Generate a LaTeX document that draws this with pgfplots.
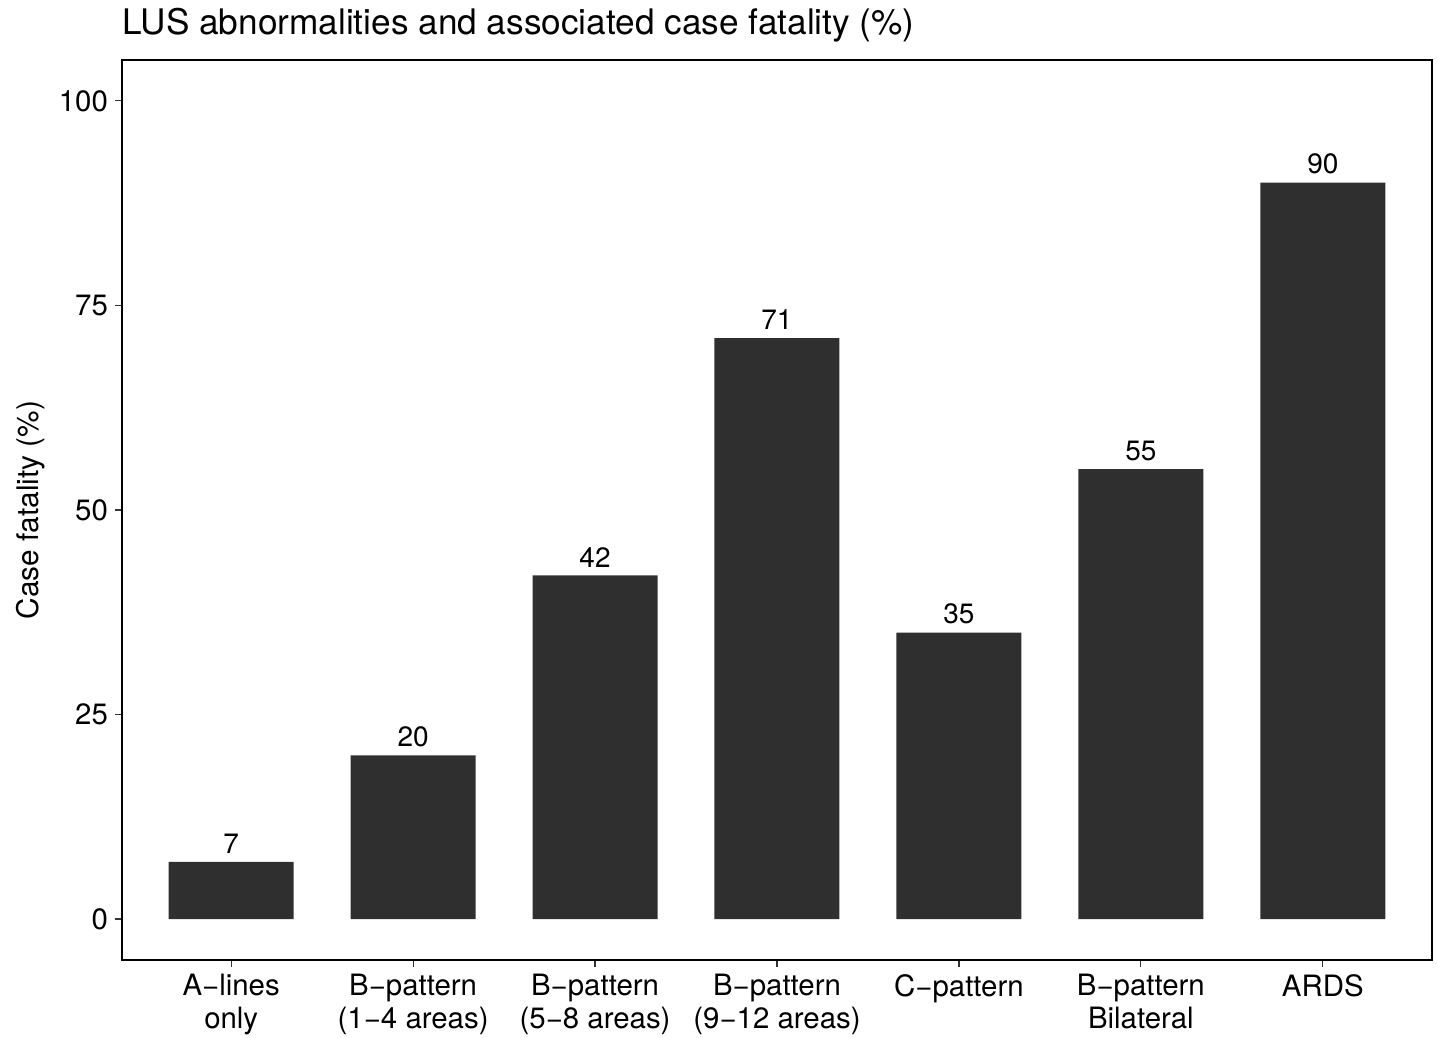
\documentclass[border=0pt]{standalone}
\usepackage{pgfplots}
\pgfplotsset{compat=1.18}
\usepackage{fontspec}
\setmainfont{TeX Gyre Heros}
\definecolor{barcol}{HTML}{2F2F2F}
\begin{document}
\begin{tikzpicture}
\useasboundingbox (-61pt,-39pt) rectangle (657.5pt,480pt);
\begin{axis}[
  name=ax,
  at={(0,0)}, anchor=south west,
  scale only axis, width=655pt, height=450pt,
  xmin=-0.6, xmax=6.6, ymin=-5, ymax=105,
  axis line style={line width=0.6pt, black},
  xtick={0,1,2,3,4,5,6},
  xticklabels={A−lines\\only, B−pattern\\(1−4 areas), B−pattern\\(5−8 areas), B−pattern\\(9−12 areas), C−pattern, B−pattern\\Bilateral, ARDS},
  ytick={0,25,50,75,100},
  tick align=outside, xtick pos=bottom, ytick pos=left,
  major tick length=3.5pt,
  tick style={line width=0.6pt, black!80},
  /pgf/number format/assume math mode=true,
  xticklabel style={align=center, font=\fontsize{14.7}{16.5}\selectfont, text=black},
  yticklabel style={font=\fontsize{14.7}{16.5}\selectfont, text=black},
  ylabel={Case fatality (\%)},
  ylabel style={font=\fontsize{14.9}{16.5}\selectfont},
  ybar, bar width=0.687,
  nodes near coords,
  every node near coord/.append style={font=\fontsize{14}{16}\selectfont, text=black, inner sep=4pt, anchor=south},
]
\addplot[fill=barcol, draw=none] coordinates {(0,7) (1,20) (2,42) (3,71) (4,35) (5,55) (6,90)};
\end{axis}
\node[anchor=base west, inner sep=0pt, font=\fontsize{17.6}{20}\selectfont] at ([yshift=12.5pt]ax.north west) {LUS abnormalities and associated case fatality (\%)};
\end{tikzpicture}
\end{document}
